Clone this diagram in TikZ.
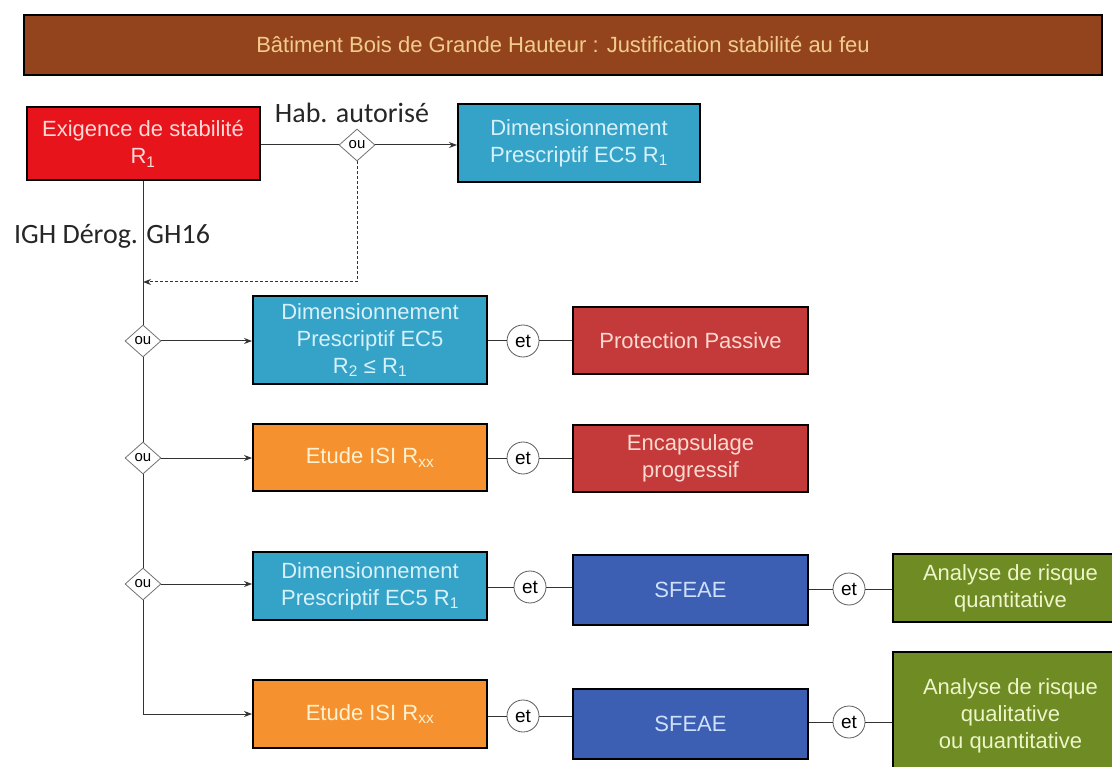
\documentclass[tikz,border=0pt]{standalone}
\usepackage{fontspec}
\setmainfont{Liberation Sans}
\newfontfamily\carlitofam{Carlito}
\usetikzlibrary{shapes.geometric,arrows.meta}
\definecolor{cTitle}{HTML}{93441C}
\definecolor{tTitle}{HTML}{F2CC8E}
\definecolor{cReq}{HTML}{E8141B}
\definecolor{tReq}{HTML}{FFD8D8}
\definecolor{cCyan}{HTML}{35A3C8}
\definecolor{tCyan}{HTML}{D7F1FA}
\definecolor{cDRed}{HTML}{C43A3A}
\definecolor{tDRed}{HTML}{FCD9D0}
\definecolor{cOrange}{HTML}{F5922F}
\definecolor{tOrange}{HTML}{FFF1D0}
\definecolor{cBlue}{HTML}{3C5FB4}
\definecolor{tBlue}{HTML}{CFE0FA}
\definecolor{cGreen}{HTML}{6E8B24}
\definecolor{tGreen}{HTML}{EEF5C8}
\definecolor{cLine}{HTML}{333333}
\tikzset{
  box/.style={draw=black, line width=2pt, align=center, inner sep=2pt,
    font=\fontsize{22}{27}\selectfont},
  boxA/.style={box, minimum width=234pt},
  cyanbox/.style={boxA, fill=cCyan, text=tCyan},
  orangebox/.style={boxA, fill=cOrange, text=tOrange},
  dredbox/.style={box, minimum width=235pt, minimum height=67pt, fill=cDRed, text=tDRed},
  bluebox/.style={box, minimum width=235pt, fill=cBlue, text=tBlue},
  greenbox/.style={box, minimum width=235pt, fill=cGreen, text=tGreen},
  oudiam/.style={diamond, draw=cLine!70, line width=0.8pt, fill=white, inner sep=0.5pt,
    minimum width=36pt, minimum height=32pt, font=\fontsize{15}{15}\selectfont},
  etcirc/.style={circle, draw=cLine!80, line width=0.8pt, fill=white, inner sep=0pt,
    minimum size=32pt, font=\fontsize{19}{19}\selectfont},
  conn/.style={draw=cLine, line width=1pt},
  arr/.style={conn, -{Stealth[length=8pt,width=6pt]}},
  lbl/.style={font=\carlitofam\fontsize{28}{28}\selectfont, text=black!85, inner sep=0pt}
}
\begin{document}
\begin{tikzpicture}[x=1pt,y=-1pt]
\useasboundingbox (0,0) rectangle (1112,767);

\node[box, fill=cTitle, text=tTitle, minimum width=1078pt, minimum height=60pt,
  font=\fontsize{22}{24}\selectfont] (title) at (563,45) {Bâtiment Bois de Grande Hauteur : Justification stabilité au feu};

\node[box, fill=cReq, text=tReq, minimum width=233pt, minimum height=73pt] (req) at (143,144)
  {Exigence de stabilité\\R\textsubscript{1}};
\node[lbl] (hab) at (352,113) {Hab. autorisé};
\node[oudiam] (d0) at (357,145) {ou};
\node[cyanbox, minimum width=242pt, minimum height=78pt] (top) at (579,143)
  {Dimensionnement\\Prescriptif EC5 R\textsubscript{1}};
\node[lbl] (igh) at (112,236) {IGH Dérog. GH16};
\coordinate (dc) at (357,282);
\coordinate (dt) at (143,282);

\node[oudiam] (d1) at (143,341) {ou};
\node[oudiam] (d2) at (143,458) {ou};
\node[oudiam] (d3) at (143,584) {ou};

\node[cyanbox, minimum height=88pt] (b1) at (370,340)
  {Dimensionnement\\Prescriptif EC5\\R\textsubscript{2} ≤ R\textsubscript{1}};
\node[etcirc] (e1) at (523,341) {et};
\node[dredbox] (p1) at (690.5,340.5) {Protection Passive};

\node[orangebox, minimum height=67pt] (b2) at (370,457.5) {Etude ISI R\textsubscript{xx}};
\node[etcirc] (e2) at (523,458) {et};
\node[dredbox] (p2) at (690.5,458.5) {Encapsulage\\progressif};

\node[cyanbox, minimum height=68pt] (b3) at (370,586)
  {Dimensionnement\\Prescriptif EC5 R\textsubscript{1}};
\node[etcirc] (e3) at (530,587) {et};
\node[bluebox, minimum height=70pt] (s3) at (690.5,590) {SFEAE};
\node[etcirc] (f3) at (849,589) {et};
\node[greenbox, minimum height=68pt] (g3) at (1010.5,588) {Analyse de risque\\quantitative};

\node[orangebox, minimum height=68pt] (b4) at (370,714) {Etude ISI R\textsubscript{xx}};
\node[etcirc] (e4) at (523,716) {et};
\node[bluebox, minimum height=70pt] (s4) at (690.5,724) {SFEAE};
\node[etcirc] (f4) at (849,722) {et};
\node[greenbox, minimum height=128pt] (g4) at (1010.5,716) {Analyse de risque\\qualitative\\ou quantitative};

% top row
\draw[conn] (req.east |- d0.west) -- (d0.west);
\draw[arr] (d0.east) -- (d0.east -| top.west);
\draw[arr, dashed, dash pattern=on 3pt off 2pt] (d0.south) -- (dc) -- (dt);

% trunk
\draw[conn] (req.south -| d1.north) -- (d1.north);
\draw[conn] (d1.south) -- (d2.north);
\draw[conn] (d2.south) -- (d3.north);
\draw[arr] (d3.south) |- (b4.west);

% branches
\draw[arr] (d1.east) -- (d1.east -| b1.west);
\draw[arr] (d2.east) -- (d2.east -| b2.west);
\draw[arr] (d3.east) -- (d3.east -| b3.west);

\draw[conn] (e1.west -| b1.east) -- (e1.west);
\draw[conn] (e1.east) -- (e1.east -| p1.west);
\draw[conn] (e2.west -| b2.east) -- (e2.west);
\draw[conn] (e2.east) -- (e2.east -| p2.west);
\draw[conn] (e3.west -| b3.east) -- (e3.west);
\draw[conn] (e3.east) -- (e3.east -| s3.west);
\draw[conn] (f3.west -| s3.east) -- (f3.west);
\draw[conn] (f3.east) -- (f3.east -| g3.west);
\draw[conn] (e4.west -| b4.east) -- (e4.west);
\draw[conn] (e4.east) -- (e4.east -| s4.west);
\draw[conn] (f4.west -| s4.east) -- (f4.west);
\draw[conn] (f4.east) -- (f4.east -| g4.west);
\end{tikzpicture}
\end{document}
